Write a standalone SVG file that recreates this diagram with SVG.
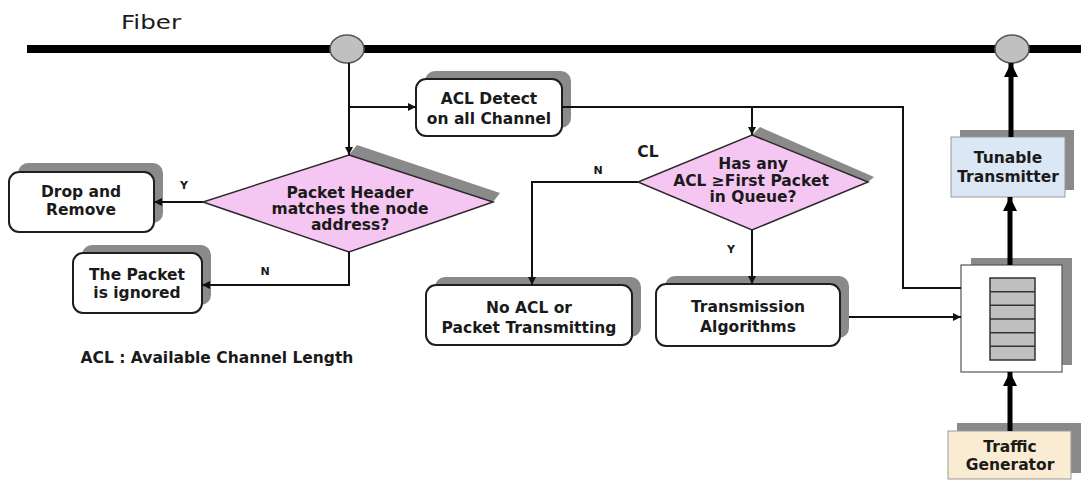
<svg xmlns="http://www.w3.org/2000/svg" width="1081" height="481" viewBox="0 0 1081 481">
<defs>
<style>
.t{font-family:"DejaVu Sans","Liberation Sans",sans-serif;font-weight:bold;font-size:15.5px;fill:#1a1a1a;text-anchor:middle}
.lbl{font-family:"DejaVu Sans","Liberation Sans",sans-serif;font-weight:bold;font-size:11px;fill:#1a1a1a;text-anchor:middle}
.box{fill:#ffffff;stroke:#1e1e1e;stroke-width:2}
.sh{fill:#8a8a8a}
.dia{fill:#f6c6f3;stroke:#2a2a2a;stroke-width:1.5}
.ln{fill:none;stroke:#111;stroke-width:2}
.thick{fill:none;stroke:#000;stroke-width:5}
.node{fill:#c0c0c0;stroke:#555;stroke-width:1.5}
</style>
<marker id="a" viewBox="0 0 10 10" refX="10" refY="5" markerWidth="9" markerHeight="8" markerUnits="userSpaceOnUse" orient="auto"><path d="M0,0 L10,5 L0,10 z" fill="#111"/></marker>
<marker id="b" viewBox="0 0 10 10" refX="10" refY="5" markerWidth="14" markerHeight="14" markerUnits="userSpaceOnUse" orient="auto"><path d="M0,0 L10,5 L0,10 z" fill="#000"/></marker>
</defs>
<rect width="1081" height="481" fill="#ffffff"/>

<g id="fiber">
<text x="151" y="29" font-family="DejaVu Sans, Liberation Sans, sans-serif" font-size="20" fill="#1a1a1a" text-anchor="middle" textLength="60" lengthAdjust="spacingAndGlyphs">Fiber</text>
<line x1="27" y1="49" x2="1081" y2="49" stroke="#000" stroke-width="8"/>
</g>

<g id="node1">
<ellipse class="node" cx="347" cy="49" rx="17" ry="14"/>
</g>
<g id="node2">
<ellipse class="node" cx="1012" cy="49" rx="17" ry="14"/>
</g>

<g id="acl-detect">
<rect class="sh" x="425" y="71" width="146" height="57" rx="10"/>
<rect class="box" x="416" y="79" width="146" height="57" rx="10"/>
<text class="t" x="489" y="104">ACL Detect</text>
<text class="t" x="489" y="124">on all Channel</text>
</g>

<g id="decision-header">
<polygon class="sh" points="349,155 357,145 500,193 493,202"/>
<polygon class="dia" points="349,155 493,202 349,252 203,202"/>
<text class="t" x="350" y="198">Packet Header</text>
<text class="t" x="350" y="214">matches the node</text>
<text class="t" x="350" y="230">address?</text>
</g>

<g id="drop-remove">
<rect class="sh" x="18" y="163" width="145" height="60" rx="10"/>
<rect class="box" x="9" y="172" width="145" height="60" rx="10"/>
<text class="t" x="81" y="197">Drop and</text>
<text class="t" x="81" y="215">Remove</text>
</g>

<g id="packet-ignored">
<rect class="sh" x="82" y="245" width="129" height="60" rx="10"/>
<rect class="box" x="73" y="253" width="129" height="60" rx="10"/>
<text class="t" x="137" y="280">The Packet</text>
<text class="t" x="137" y="298">is ignored</text>
</g>

<g id="decision-acl">
<polygon class="sh" points="752,135 760,127 874,177 868,182"/>
<polygon class="dia" points="752,135 868,182 752,230 638,182"/>
<text class="t" x="753" y="169">Has any</text>
<text class="t" x="751" y="186">ACL ≥First Packet</text>
<text class="t" x="753" y="202">in Queue?</text>
</g>

<g id="no-acl">
<rect class="sh" x="435" y="277" width="206" height="60" rx="10"/>
<rect class="box" x="426" y="285" width="206" height="60" rx="10"/>
<text class="t" x="529" y="313">No ACL  or</text>
<text class="t" x="529" y="333">Packet Transmitting</text>
</g>

<g id="transmission">
<rect class="sh" x="665" y="276" width="184" height="62" rx="10"/>
<rect class="box" x="656" y="284" width="184" height="62" rx="10"/>
<text class="t" x="748" y="312">Transmission</text>
<text class="t" x="748" y="332">Algorithms</text>
</g>

<g id="queue">
<rect class="sh" x="971" y="258" width="101" height="107"/>
<rect x="961" y="265" width="101" height="107" fill="#fff" stroke="#555" stroke-width="1.2"/>
<rect x="990" y="278" width="45" height="82" fill="#c0c0c0" stroke="#333" stroke-width="1.5"/>
<path d="M990,291.7 H1035 M990,305.3 H1035 M990,319 H1035 M990,332.7 H1035 M990,346.3 H1035" stroke="#333" stroke-width="1.5"/>
</g>

<g id="tunable">
<rect class="sh" x="960" y="130" width="114" height="60"/>
<rect x="951" y="137" width="114" height="60" fill="#dbe7f4" stroke="#999" stroke-width="1"/>
<text class="t" x="1008" y="163" font-size="15">Tunable</text>
<text class="t" x="1008" y="182" font-size="15">Transmitter</text>
</g>

<g id="traffic">
<rect class="sh" x="957" y="423" width="124" height="50"/>
<rect x="948" y="431" width="123" height="48" fill="#faecd2" stroke="#999" stroke-width="1"/>
<text class="t" x="1010" y="452" font-size="15">Traffic</text>
<text class="t" x="1010" y="470" font-size="15">Generator</text>
</g>

<g id="connectors">
<path class="ln" d="M349,63 V155" marker-end="url(#a)"/>
<path class="ln" d="M349,107 H416" marker-end="url(#a)"/>
<path class="ln" d="M203,202 H154" marker-end="url(#a)"/>
<path class="ln" d="M349,252 V285 H202" marker-end="url(#a)"/>
<path class="ln" d="M562,107 H903 V288 H961"/>
<path class="ln" d="M752,107 V135" marker-end="url(#a)"/>
<path class="ln" d="M638,182 H532 V285" marker-end="url(#a)"/>
<path class="ln" d="M752,230 V284" marker-end="url(#a)"/>
<path class="ln" d="M849,317 H961" marker-end="url(#a)"/>
<path class="thick" d="M1010,265 V197" marker-end="url(#b)"/>
<path class="thick" d="M1011,137 V63" marker-end="url(#b)"/>
<path class="thick" d="M1010,431 V372" marker-end="url(#b)"/>
<text class="lbl" x="184" y="189">Y</text>
<text class="lbl" x="265" y="275">N</text>
<text class="lbl" x="598" y="174">N</text>
<text class="lbl" x="731" y="253">Y</text>
<text class="t" x="648" y="157" font-size="13">CL</text>
</g>

<text class="t" x="217" y="363" font-size="15">ACL : Available Channel Length</text>
</svg>
